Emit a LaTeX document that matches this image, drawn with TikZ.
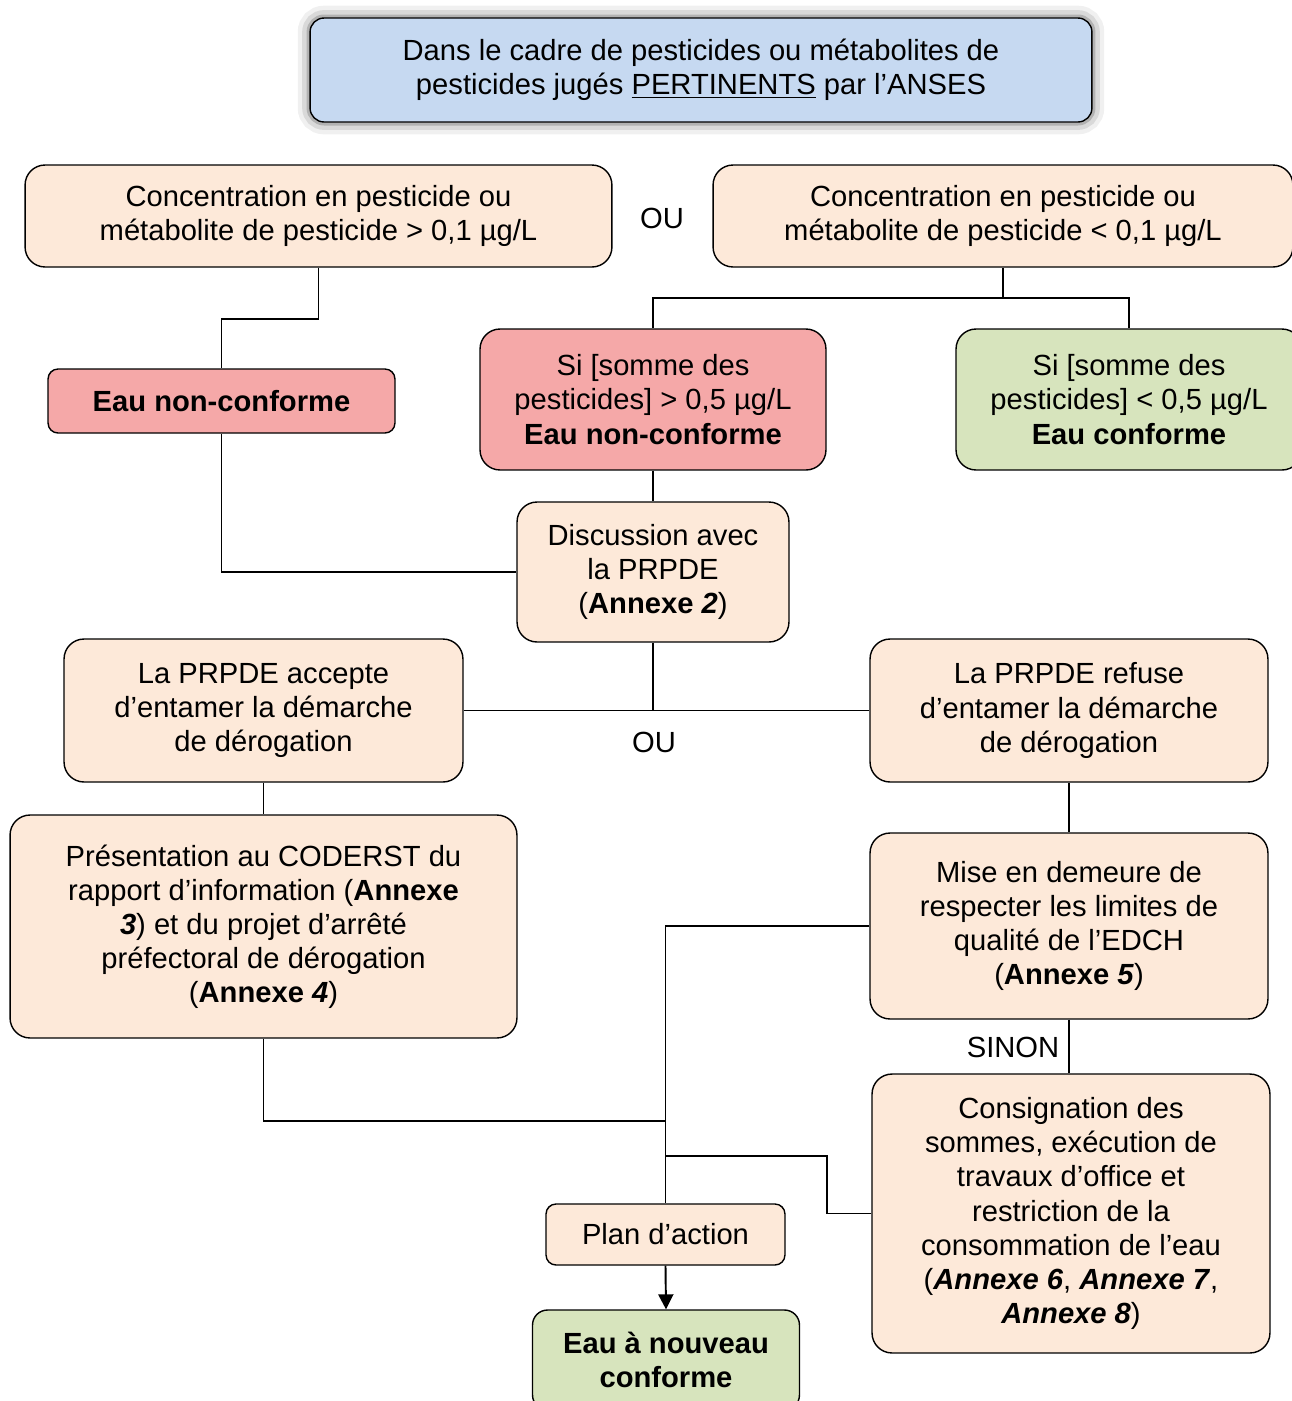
\documentclass[tikz,border=0pt]{standalone}
\usepackage{fontspec}
\setmainfont{Liberation Sans}
\usetikzlibrary{arrows.meta, positioning}

\definecolor{peach}{HTML}{FDE9D9}
\definecolor{rose}{HTML}{F5A8A8}
\definecolor{sage}{HTML}{D7E4BD}
\definecolor{sky}{HTML}{C6D9F1}

\begin{document}
\begin{tikzpicture}[
    x=0.02cm, y=-0.02cm,
    every node/.style={font=\fontsize{16.6}{19.4}\selectfont},
    box/.style={draw, line width=0.8pt, fill=peach, rounded corners=0.4cm, align=center, inner sep=0pt},
    redbox/.style={box, fill=rose},
    greenbox/.style={box, fill=sage},
    topbox/.style={box, fill=sky, rounded corners=0.28cm,
        preaction={draw=black!30, line width=14pt, opacity=0.2},
        preaction={draw=black!35, line width=9pt, opacity=0.3},
        preaction={draw=black!45, line width=4pt, opacity=0.5}},
    link/.style={draw, line width=1.1pt},
    lbl/.style={inner sep=0pt}
]
\useasboundingbox (0,0) rectangle (1292,1401);

% Nodes
\node[topbox, minimum width=15.64cm, minimum height=2.08cm] (cadre) at (701,70)
    {Dans le cadre de pesticides ou métabolites de\\pesticides jugés \underline{PERTINENTS} par l’ANSES};

\node[box, minimum width=11.74cm, minimum height=2.04cm] (sup01) at (318.5,216)
    {Concentration en pesticide ou\\métabolite de pesticide > 0,1 µg/L};
\node[lbl] (ou1) at (662,218) {OU};
\node[box, minimum width=11.6cm, minimum height=2.04cm] (inf01) at (1003,216)
    {Concentration en pesticide ou\\métabolite de pesticide < 0,1 µg/L};

\node[redbox, rounded corners=0.2cm, minimum width=6.94cm, minimum height=1.28cm] (nonconf) at (221.5,401)
    {\textbf{Eau non-conforme}};
\node[redbox, minimum width=6.92cm, minimum height=2.82cm] (sup05) at (653,399.5)
    {Si [somme des\\pesticides] > 0,5 µg/L\\\textbf{Eau non-conforme}};
\node[greenbox, minimum width=6.92cm, minimum height=2.82cm] (inf05) at (1129,399.5)
    {Si [somme des\\pesticides] < 0,5 µg/L\\\textbf{Eau conforme}};

\node[box, minimum width=5.44cm, minimum height=2.8cm] (discussion) at (653,572)
    {Discussion avec\\la PRPDE\\(\textbf{Annexe \textit{2}})};

\node[box, minimum width=7.98cm, minimum height=2.86cm] (accepte) at (263.5,710.5)
    {La PRPDE accepte\\d’entamer la démarche\\de dérogation};
\node[lbl] (ou2) at (654,742) {OU};
\node[box, minimum width=7.96cm, minimum height=2.86cm] (refuse) at (1069,710.5)
    {La PRPDE refuse\\d’entamer la démarche\\de dérogation};

\node[box, minimum width=10.14cm, minimum height=4.46cm] (coderst) at (263.5,926.5)
    {Présentation au CODERST du\\rapport d’information (\textbf{Annexe}\\\textbf{\textit{3}}) et du projet d’arrêté\\préfectoral de dérogation\\(\textbf{Annexe \textit{4}})};
\node[box, minimum width=7.96cm, minimum height=3.72cm] (demeure) at (1069,926)
    {Mise en demeure de\\respecter les limites de\\qualité de l’EDCH\\(\textbf{Annexe \textit{5}})};
\node[lbl] (sinon) at (1013,1047) {SINON};
\node[box, minimum width=7.96cm, minimum height=5.58cm] (consignation) at (1071,1213.5)
    {Consignation des\\sommes, exécution de\\travaux d’office et\\restriction de la\\consommation de l’eau\\(\textbf{\textit{Annexe 6}}, \textbf{\textit{Annexe 7}},\\\textbf{\textit{Annexe 8}})};

\node[box, rounded corners=0.2cm, minimum width=4.78cm, minimum height=1.22cm] (plan) at (665.5,1234.5)
    {Plan d’action};
\node[greenbox, rounded corners=0.3cm, minimum width=5.34cm, minimum height=2cm] (conforme) at (666,1360)
    {\textbf{Eau à nouveau}\\\textbf{conforme}};

% Connectors
\coordinate (split) at (1003,298);
\coordinate (join1) at (665.5,1121);
\coordinate (join2) at (665.5,1156);

\draw[link] (sup01.south) -- ++(0,51) -| (nonconf.north);
\draw[link] (inf01.south) -- (split) -| (sup05.north);
\draw[link] (split) -| (inf05.north);
\draw[link] (sup05.south) -- (discussion.north);
\draw[link] (nonconf.south) |- (discussion.west);
\draw[link] (discussion.south) -- (discussion.south |- accepte.east);
\draw[link] (accepte.east) -- (refuse.west);
\draw[link] (accepte.south) -- (coderst.north);
\draw[link] (refuse.south) -- (demeure.north);
\draw[link] (demeure.south) -- (demeure.south |- consignation.north);
\draw[link] (demeure.west) -| (plan.north);
\draw[link] (coderst.south) |- (join1);
\draw[link] (consignation.west) -- ++(-44,0) |- (join2);
\draw[link, -{Triangle[length=0.3cm, width=0.3cm]}] (plan.south) -- (conforme.north);

\end{tikzpicture}
\end{document}
